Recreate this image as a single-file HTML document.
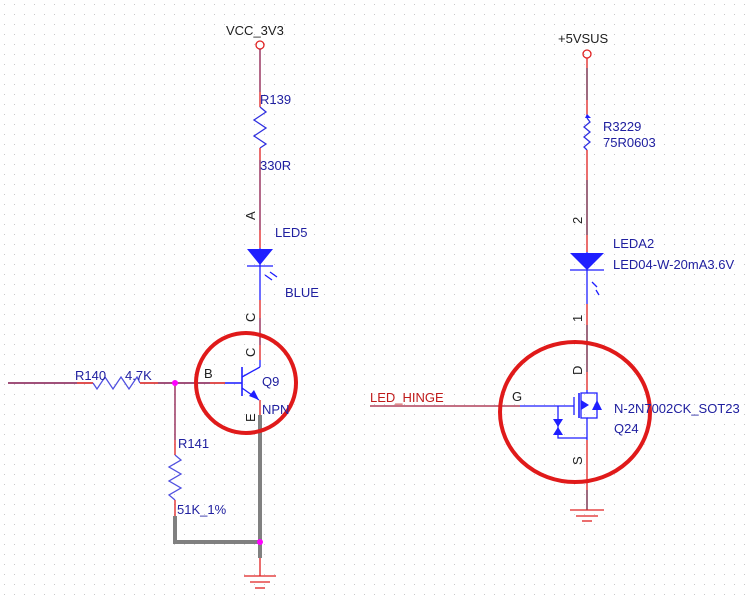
<!DOCTYPE html>
<html><head><meta charset="utf-8"><style>
html,body{margin:0;padding:0;background:#fff}
svg{display:block}
text{font-family:"Liberation Sans",sans-serif;font-size:13px}
</style></head><body>
<svg width="754" height="597" viewBox="0 0 754 597" xmlns="http://www.w3.org/2000/svg">
<defs><pattern id="g" width="10" height="10" patternUnits="userSpaceOnUse"><rect x="4" y="4" width="1" height="1" fill="#c8c8c8"/></pattern></defs>
<rect width="754" height="597" fill="url(#g)"/>
<g fill="none" stroke-width="1.3">
<!-- LEFT -->
<circle cx="260" cy="45" r="4" stroke="#e02020"/>
<line x1="260" y1="49" x2="260" y2="92" stroke="#8b1a4a"/>
<line x1="260" y1="92" x2="260" y2="107" stroke="#e02020"/>
<polyline points="260,107 266,112 254,120 266,128 254,136 266,144 260,148" stroke="#3030e0"/>
<line x1="260" y1="148" x2="260" y2="160" stroke="#e02020"/>
<line x1="260" y1="160" x2="260" y2="230" stroke="#8b1a4a"/>
<line x1="260" y1="230" x2="260" y2="248" stroke="#e02020"/>
<line x1="260" y1="248" x2="260" y2="300" stroke="#1f1fff"/>
<line x1="247" y1="266" x2="273" y2="266" stroke="#1f1fff"/>
<line x1="260" y1="300" x2="260" y2="318" stroke="#e02020"/>
<line x1="260" y1="318" x2="260" y2="345" stroke="#8b1a4a"/>
<line x1="260" y1="345" x2="260" y2="360" stroke="#e02020"/>
<line x1="260" y1="360" x2="260" y2="367" stroke="#1f1fff"/>
<line x1="8" y1="383" x2="77" y2="383" stroke="#a0507a" stroke-width="2"/>
<line x1="77" y1="383" x2="93" y2="383" stroke="#e05050" stroke-width="2"/>
<polyline points="93,383 97,389 105,377 113,389 121,377 129,389 137,377 140,383" stroke="#5050e0"/>
<line x1="140" y1="383" x2="158" y2="383" stroke="#e05050" stroke-width="2"/>
<line x1="158" y1="383" x2="210" y2="383" stroke="#a0507a" stroke-width="2"/>
<line x1="210" y1="383" x2="225" y2="383" stroke="#e05050" stroke-width="2"/>
<line x1="225" y1="383" x2="242" y2="383" stroke="#5050ff" stroke-width="2"/>
<line x1="242" y1="367" x2="242" y2="396" stroke="#1f1fff" stroke-width="1.6"/>
<line x1="242" y1="377" x2="260" y2="367" stroke="#1f1fff"/>
<line x1="242" y1="388" x2="259" y2="400" stroke="#1f1fff"/>
<line x1="260" y1="400" x2="260" y2="415" stroke="#e02020"/>
<line x1="175" y1="383" x2="175" y2="440" stroke="#8b1a4a"/>
<line x1="175" y1="440" x2="175" y2="455" stroke="#e02020"/>
<polyline points="175,455 181,460 169,467 181,474 169,481 181,488 169,495 175,500" stroke="#5050e0"/>
<line x1="175" y1="500" x2="175" y2="518" stroke="#e02020"/>
<polyline points="175,516 175,542 260,542" stroke="#808080" stroke-width="4"/>
<line x1="260" y1="415" x2="260" y2="558" stroke="#808080" stroke-width="4"/>
<line x1="260" y1="558" x2="260" y2="576" stroke="#e02020"/>
<line x1="244" y1="576" x2="276" y2="576" stroke="#e02020"/>
<line x1="250" y1="582" x2="270" y2="582" stroke="#e02020"/>
<line x1="255" y1="588" x2="265" y2="588" stroke="#e02020"/>
<line x1="265" y1="275" x2="272" y2="280" stroke="#1f1fff"/>
<line x1="270" y1="272" x2="277" y2="277" stroke="#1f1fff"/>
<!-- RIGHT -->
<circle cx="587" cy="54" r="4" stroke="#e02020"/>
<line x1="587" y1="58" x2="587" y2="68" stroke="#e02020"/>
<line x1="587" y1="68" x2="587" y2="100" stroke="#6a1a3a"/>
<line x1="587" y1="100" x2="587" y2="118" stroke="#e02020"/>
<polyline points="587,118 590,122 584,127 590,132 584,137 590,142 584,147 587,150" stroke="#3030e0"/>
<line x1="587" y1="150" x2="587" y2="180" stroke="#e02020"/>
<line x1="587" y1="180" x2="587" y2="235" stroke="#6a1a3a"/>
<line x1="587" y1="235" x2="587" y2="252" stroke="#e02020"/>
<line x1="587" y1="252" x2="587" y2="304" stroke="#1f1fff"/>
<line x1="570" y1="270" x2="604" y2="270" stroke="#1f1fff"/>
<line x1="592" y1="282" x2="597" y2="287" stroke="#1f1fff"/>
<line x1="596" y1="290" x2="599" y2="295" stroke="#1f1fff"/>
<line x1="587" y1="304" x2="587" y2="325" stroke="#e02020"/>
<line x1="587" y1="325" x2="587" y2="372" stroke="#6a1a3a"/>
<line x1="587" y1="372" x2="587" y2="390" stroke="#e02020"/>
<polyline points="587,390 587,393 581,393 581,418 587,418 587,440" stroke="#1f1fff"/>
<polyline points="587,393 597,393 597,418 587,418" stroke="#1f1fff"/>
<line x1="579" y1="393" x2="579" y2="418" stroke="#1f1fff" stroke-width="1.6"/>
<line x1="574" y1="397" x2="574" y2="415" stroke="#1f1fff"/>
<line x1="370" y1="406" x2="520" y2="406" stroke="#a01a3a"/>
<line x1="520" y1="406" x2="574" y2="406" stroke="#1f1fff"/>
<polyline points="558,406 558,438 587,438" stroke="#1f1fff"/>
<line x1="587" y1="440" x2="587" y2="490" stroke="#e02020"/>
<line x1="587" y1="490" x2="587" y2="510" stroke="#6a1a3a"/>
<line x1="570" y1="510" x2="604" y2="510" stroke="#e02020"/>
<line x1="576" y1="516" x2="598" y2="516" stroke="#e02020"/>
<line x1="582" y1="521" x2="592" y2="521" stroke="#e02020"/>
<!-- circles -->
<ellipse cx="246" cy="383" rx="50" ry="50" stroke="#e01a1a" stroke-width="4"/>
<ellipse cx="575" cy="412" rx="75" ry="70" stroke="#e01a1a" stroke-width="4"/>
</g>
<g fill="#1f1fff" stroke="none">
<polygon points="247,249 273,249 260,265"/>
<polygon points="570,253 604,253 587,270"/>
<polygon points="259,400 249,396 254,390"/>
<polygon points="589,405 581,400 581,410"/>
<polygon points="592,410 602,410 597,400"/>
<polygon points="553,419 563,419 558,427"/>
<polygon points="553,435 563,435 558,427"/>
<polygon points="585,118 591,118 587,114"/>
</g>
<g fill="#2020a0">
<text x="260" y="104">R139</text>
<text x="260" y="170">330R</text>
<text x="275" y="237">LED5</text>
<text x="285" y="297">BLUE</text>
<text x="262" y="386">Q9</text>
<text x="262" y="414">NPN</text>
<text x="75" y="380">R140</text>
<text x="125" y="380">4.7K</text>
<text x="178" y="448">R141</text>
<text x="177" y="514">51K_1%</text>
<text x="603" y="131" font-size="12">R3229</text>
<text x="603" y="147" font-size="12">75R0603</text>
<text x="613" y="248" font-size="12">LEDA2</text>
<text x="613" y="269" font-size="12">LED04-W-20mA3.6V</text>
<text x="614" y="413" font-size="12">N-2N7002CK_SOT23</text>
<text x="614" y="433" font-size="12">Q24</text>
</g>
<g fill="#202020">
<text x="226" y="35" font-size="12">VCC_3V3</text>
<text x="558" y="43" font-size="12">+5VSUS</text>
<text x="204" y="378">B</text>
<text x="512" y="401">G</text>
<text transform="translate(255,220) rotate(-90)" font-size="12">A</text>
<text transform="translate(255,322) rotate(-90)" font-size="12">C</text>
<text transform="translate(255,357) rotate(-90)" font-size="12">C</text>
<text transform="translate(255,422) rotate(-90)" font-size="12">E</text>
<text transform="translate(582,224) rotate(-90)" font-size="12">2</text>
<text transform="translate(582,322) rotate(-90)" font-size="12">1</text>
<text transform="translate(582,375) rotate(-90)" font-size="13">D</text>
<text transform="translate(582,465) rotate(-90)" font-size="13">S</text>
</g>
<text x="370" y="402" fill="#c01a1a" font-size="13">LED_HINGE</text>
<circle cx="175" cy="383" r="3" fill="#ff00ff"/>
<circle cx="260" cy="542" r="3" fill="#ff00ff"/>
</svg>
</body></html>
